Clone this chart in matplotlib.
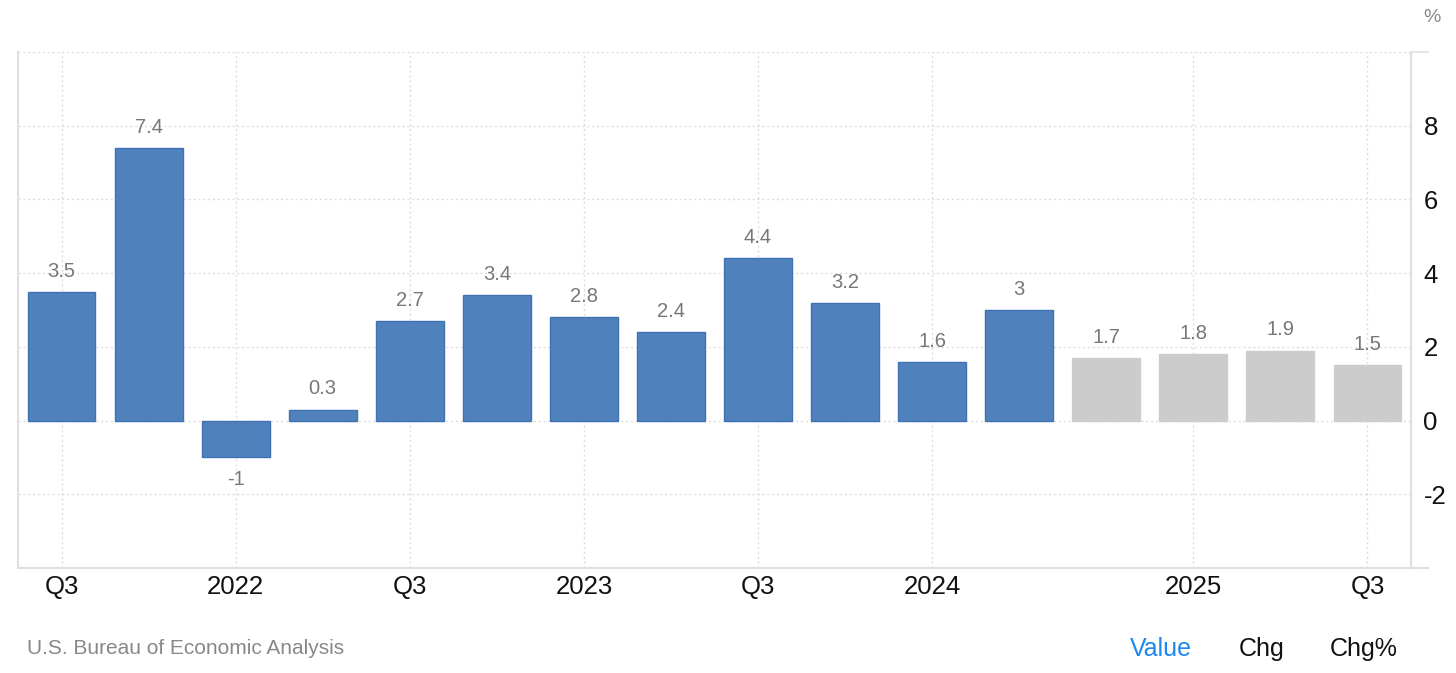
import matplotlib.pyplot as plt
import numpy as np

plt.rcParams['font.family'] = ['Liberation Sans', 'DejaVu Sans']
plt.rcParams['axes.unicode_minus'] = False

# GDP growth rate, % (actual then forecast)
actual = [3.5, 7.4, -1, 0.3, 2.7, 3.4, 2.8, 2.4, 4.4, 3.2, 1.6, 3]
forecast = [1.7, 1.8, 1.9, 1.5]
tick_pos = [0, 2, 4, 6, 8, 10, 13, 15]
tick_labels = ['Q3', '2022', 'Q3', '2023', 'Q3', '2024', '2025', 'Q3']
y_ticks = [-2, 0, 2, 4, 6, 8]

values = actual + forecast
x = np.arange(len(values))
colors = ['#4f81bd'] * len(actual) + ['#cccccc'] * len(forecast)
edges = ['#3f72b5'] * len(actual) + ['#cccccc'] * len(forecast)

fig = plt.figure(figsize=(14.56, 6.73), dpi=100)
ax = fig.add_axes([18 / 1456, 105 / 673, (1411 - 18) / 1456, (568 - 52) / 673])

ax.bar(x, values, width=0.78, color=colors, edgecolor=edges, linewidth=1, zorder=3)

for xi, v in zip(x, values):
    lbl = '%g' % v
    if v >= 0:
        ax.text(xi, v + 0.3, lbl, ha='center', va='bottom', fontsize=14.5, color='#777777')
    else:
        ax.text(xi, v - 0.35, lbl, ha='center', va='top', fontsize=14.5, color='#777777')

ax.set_xlim(-0.5, 15.5)
ax.set_ylim(-4, 10)
ax.set_xticks(tick_pos)
ax.set_xticklabels(tick_labels)
ax.set_yticks(y_ticks)
ax.yaxis.tick_right()
ax.tick_params(axis='both', length=0, labelsize=18.5, labelcolor='#111111')
ax.tick_params(axis='y', pad=9)
ax.tick_params(axis='x', pad=5)

# dotted grid
for yv in [-2, 0, 2, 4, 6, 8, 10]:
    ax.axhline(yv, color='#dddddd', linestyle=(0, (1.5, 2)), linewidth=1, zorder=1)
for xv in tick_pos:
    ax.axvline(xv, color='#dddddd', linestyle=(0, (1.5, 2)), linewidth=1, zorder=1)

ax.spines['top'].set_visible(False)
for s in ['left', 'right', 'bottom']:
    ax.spines[s].set_color('#e0e0e0')
    ax.spines[s].set_linewidth(1.5)

# small extensions past the right spine
ax.plot([1, 1.012], [0, 0], transform=ax.transAxes, color='#e0e0e0', lw=1.5, clip_on=False)
ax.plot([1, 1.012], [1, 1], transform=ax.transAxes, color='#e0e0e0', lw=1.2, clip_on=False)

fig.text(1432 / 1456, 1 - 17 / 673, '%', ha='center', va='center', fontsize=14, color='#888888')
fig.text(27 / 1456, 1 - 648 / 673, 'U.S. Bureau of Economic Analysis', ha='left', va='center',
         fontsize=15, color='#888888')
fig.text(1161 / 1456, 1 - 649 / 673, 'Value', ha='center', va='center', fontsize=18, color='#1e88f0')
fig.text(1262 / 1456, 1 - 649 / 673, 'Chg', ha='center', va='center', fontsize=18, color='#111111')
fig.text(1364 / 1456, 1 - 649 / 673, 'Chg%', ha='center', va='center', fontsize=18, color='#111111')

fig.savefig('out.png', dpi=100)
